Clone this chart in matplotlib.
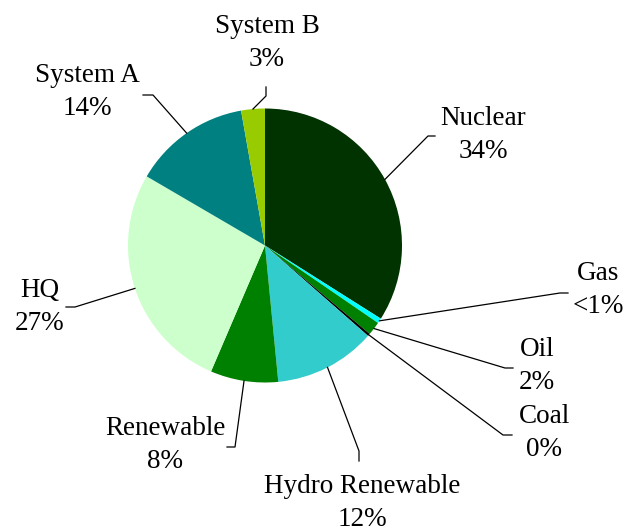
import numpy as np
import matplotlib.pyplot as plt

# Data
labels = ['Nuclear', 'Gas', 'Oil', 'Coal', 'Hydro Renewable', 'Renewable',
          'HQ', 'System A', 'System B']
values = [34.0, 0.6, 1.6, 0.3, 12.0, 8.0, 27.0, 13.8, 2.8]
pct_text = ['34%', '<1%', '2%', '0%', '12%', '8%', '27%', '14%', '3%']
colors = ['#003300', '#00FFFF', '#008000', '#000000', '#33CCCC', '#008000',
          '#CCFFCC', '#008080', '#99CC00']

# Layout in pixel coordinates of the 628x531 picture
CX, CY, R = 265, 245.5, 137


def px(x, y):
    return (x - CX) / R, (CY - y) / R


# text centre, elbow, end of leader line (pixels)
label_pos = [(483, 135), (598, 290), (537, 366), (544, 433), (362, 503),
             (165, 445), (40, 307), (87, 92), (267, 43)]
leader_pts = [[(428, 136), (435, 136)],
              [(560, 293), (568, 293)],
              [(505, 368), (513, 368)],
              [(503, 435), (512, 435)],
              [(359, 451), (359, 461)],
              [(235, 447), (227, 447)],
              [(75, 307), (66, 307)],
              [(153, 95), (143, 95)],
              [(266, 96), (266, 87)]]

plt.rcParams['font.family'] = ['Liberation Serif', 'DejaVu Serif']

fig = plt.figure(figsize=(6.28, 5.31), dpi=100)
ax = fig.add_axes([0, 0, 1, 1])

wedges, _ = ax.pie(values, colors=colors, startangle=90, counterclock=False,
                   radius=1.0, center=(0, 0), frame=True)
ax.set_xlim((0 - CX) / R, (628 - CX) / R)
ax.set_ylim((CY - 531) / R, CY / R)
ax.set_aspect('equal')
ax.axis('off')

for w, name, pct, tpos, pts in zip(wedges, labels, pct_text, label_pos, leader_pts):
    mid = np.deg2rad((w.theta1 + w.theta2) / 2)
    xs = [np.cos(mid)]
    ys = [np.sin(mid)]
    for p in pts:
        dx, dy = px(*p)
        xs.append(dx)
        ys.append(dy)
    ax.plot(xs, ys, color='black', lw=0.9)
    tx, ty = px(*tpos)
    ax.text(tx, ty, name + '\n' + pct, ha='center', va='center',
            fontsize=19.5, linespacing=1.45, color='black')

fig.savefig('out.png', dpi=100)
